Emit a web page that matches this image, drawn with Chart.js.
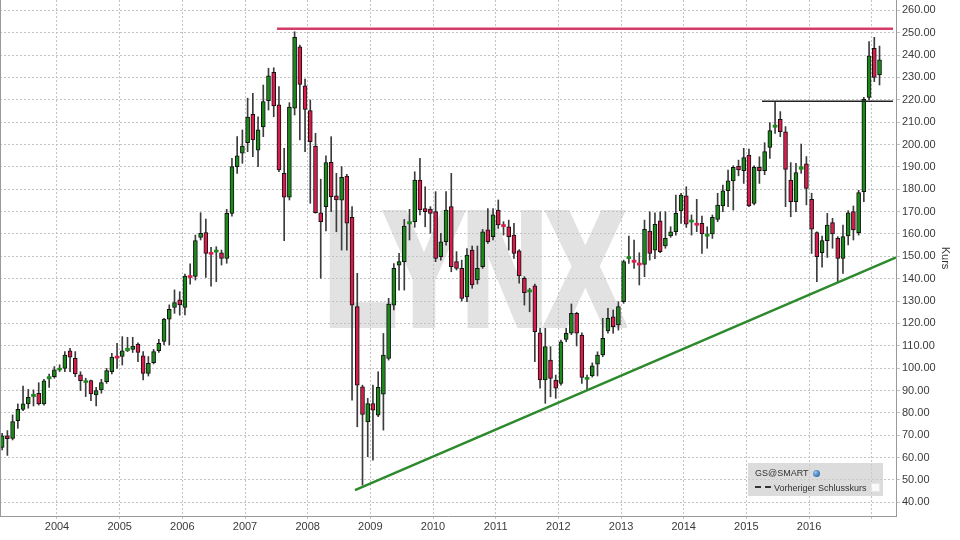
<!DOCTYPE html>
<html>
<head>
<meta charset="utf-8">
<script src="https://cdn.jsdelivr.net/npm/chart.js@4.4.1/dist/chart.umd.min.js"></script>
<style>
  html, body { margin:0; padding:0; background:#fff; }
  #wrap { position:relative; width:960px; height:540px; overflow:hidden; }
  #wm { position:absolute; left:325px; top:190px; font:bold 159px 'Liberation Sans', Arial, sans-serif; line-height:1;
        color:#e2e2e2; -webkit-text-stroke:8px #e2e2e2; transform-origin:left top; transform:scaleX(0.73); white-space:nowrap; z-index:0; }
  #c { position:absolute; left:0; top:0; z-index:1; }
  #legend { position:absolute; left:748px; top:463px; width:135px; height:33px; background:rgba(205,205,205,0.7); z-index:2;
            font:9px 'Liberation Sans', Arial, sans-serif; color:#333; }
  #legend .row1 { position:absolute; left:7px; top:5px; white-space:nowrap; }
  #legend .row2 { position:absolute; left:7px; top:20px; white-space:nowrap; }
  .globe { display:inline-block; width:7px; height:7px; border-radius:50%; background:radial-gradient(circle at 35% 35%, #9cc4ee, #2f6fb0 70%); vertical-align:-1px; margin-left:5px; }
  .dash { display:inline-block; width:16px; height:0; border-top:2px dashed #333; vertical-align:3px; margin-right:3px; }
  .sq { display:inline-block; width:7px; height:7px; background:#fafafa; border:1px solid #e6e6e6; vertical-align:-1px; margin-left:4px; }
</style>
</head>
<body>
<div id="wrap">
  <div id="wm">LYNX</div>
  <canvas id="c" width="960" height="540"></canvas>
  <div id="legend">
    <div class="row1">GS@SMART<span class="globe"></span></div>
    <div class="row2"><span class="dash"></span>Vorheriger Schlusskurs<span class="sq"></span></div>
  </div>
</div>
<script>
// ---- categories (monthly candles, Feb 2003 - Feb 2017) ----
const months = [
 '2003-02','2003-03','2003-04','2003-05','2003-06','2003-07','2003-08','2003-09','2003-10','2003-11','2003-12',
 '2004-01','2004-02','2004-03','2004-04','2004-05','2004-06','2004-07','2004-08','2004-09','2004-10','2004-11','2004-12',
 '2005-01','2005-02','2005-03','2005-04','2005-05','2005-06','2005-07','2005-08','2005-09','2005-10','2005-11','2005-12',
 '2006-01','2006-02','2006-03','2006-04','2006-05','2006-06','2006-07','2006-08','2006-09','2006-10','2006-11','2006-12',
 '2007-01','2007-02','2007-03','2007-04','2007-05','2007-06','2007-07','2007-08','2007-09','2007-10','2007-11','2007-12',
 '2008-01','2008-02','2008-03','2008-04','2008-05','2008-06','2008-07','2008-08','2008-09','2008-10','2008-11','2008-12',
 '2009-01','2009-02','2009-03','2009-04','2009-05','2009-06','2009-07','2009-08','2009-09','2009-10','2009-11','2009-12',
 '2010-01','2010-02','2010-03','2010-04','2010-05','2010-06','2010-07','2010-08','2010-09','2010-10','2010-11','2010-12',
 '2011-01','2011-02','2011-03','2011-04','2011-05','2011-06','2011-07','2011-08','2011-09','2011-10','2011-11','2011-12',
 '2012-01','2012-02','2012-03','2012-04','2012-05','2012-06','2012-07','2012-08','2012-09','2012-10','2012-11','2012-12',
 '2013-01','2013-02','2013-03','2013-04','2013-05','2013-06','2013-07','2013-08','2013-09','2013-10','2013-11','2013-12',
 '2014-01','2014-02','2014-03','2014-04','2014-05','2014-06','2014-07','2014-08','2014-09','2014-10','2014-11','2014-12',
 '2015-01','2015-02','2015-03','2015-04','2015-05','2015-06','2015-07','2015-08','2015-09','2015-10','2015-11','2015-12',
 '2016-01','2016-02','2016-03','2016-04','2016-05','2016-06','2016-07','2016-08','2016-09','2016-10','2016-11','2016-12',
 '2017-01','2017-02'
];
const open = [
 64.6,69.7,68.6,76.5,81.6,84.0,87.3,88.8,84.0,95.2,96.2,
 99.2,99.9,107.8,104.4,97.0,93.6,94.4,88.0,90.3,94.0,98.4,105.4,
 105.2,107.8,108.4,110.8,105.5,97.7,102.5,107.8,111.9,121.9,127.2,130.5,
 127.2,141.4,141.0,158.5,160.6,151.8,151.9,151.6,149.1,169.2,190.1,196.1,
 200.8,213.5,197.5,207.9,219.6,232.3,217.7,187.1,176.4,216.2,243.7,226.2,
 215.2,199.3,169.5,172.2,192.0,177.1,175.1,185.9,167.4,127.5,91.7,76.0,
 84.2,79.0,88.4,104.3,128.2,146.1,147.6,164.5,165.5,184.1,171.4,171.1,
 170.0,149.8,156.5,172.2,147.6,144.6,131.9,152.8,139.4,145.4,161.8,158.8,
 170.7,164.2,163.2,159.5,152.4,140.2,134.1,136.8,115.8,94.7,103.6,94.7,
 93.2,112.9,115.6,124.5,114.8,95.0,96.5,101.8,105.9,116.7,123.0,119.3,
 129.7,149.0,148.3,147.0,146.4,161.3,152.8,165.9,154.6,159.1,161.0,170.3,
 177.0,165.3,164.8,164.7,159.0,160.0,166.5,172.5,179.3,183.7,190.4,188.3,
 195.3,173.7,189.8,188.3,198.7,207.7,211.3,205.7,184.1,174.4,188.9,191.3,
 175.5,160.6,151.6,157.0,165.1,158.0,149.1,159.1,170.0,160.6,178.9,221.1,
 243.0,231.1
];
const high = [
 70.9,72.1,79.1,84.0,92.0,90.5,90.3,93.5,95.0,97.4,100.7,
 101.5,107.4,108.9,107.4,98.4,95.5,94.7,91.4,95.0,99.9,106.6,111.1,
 114.1,113.8,113.8,111.3,107.4,105.2,108.4,112.9,122.3,128.3,135.0,134.2,
 142.1,146.6,159.5,169.5,166.6,154.0,154.3,152.8,171.0,193.8,203.5,206.5,
 220.7,222.9,212.4,226.6,234.1,234.3,225.9,198.3,218.7,250.4,244.5,229.2,
 219.9,205.0,184.5,194.9,203.5,187.1,190.1,186.7,172.2,142.4,92.4,86.5,
 92.4,98.4,115.5,131.2,146.8,151.3,166.5,171.0,187.8,193.8,181.1,172.2,
 178.9,160.3,178.9,187.1,152.1,148.3,153.5,154.6,154.6,162.0,171.4,171.4,
 175.2,165.5,166.2,164.7,153.0,140.9,135.7,137.6,117.8,117.8,109.6,96.9,
 112.6,117.8,128.7,125.0,115.8,96.9,102.4,107.3,122.3,126.7,126.0,129.7,
 148.3,159.1,157.3,151.6,166.2,169.9,169.5,169.9,169.9,163.2,177.4,178.2,
 181.1,168.5,175.5,168.0,163.2,168.5,178.2,181.9,188.6,190.5,193.0,198.3,
 198.0,190.5,194.5,200.8,209.8,219.2,214.7,208.0,191.9,191.6,200.2,194.6,
 178.2,161.0,159.1,169.2,167.0,158.8,164.0,170.4,172.5,179.5,221.1,246.0,
 247.9,244.0
];
const low = [
 63.4,61.0,67.9,73.1,81.0,82.1,83.1,83.5,83.5,91.4,95.5,
 98.5,98.4,98.4,96.2,90.0,87.3,85.5,83.1,88.8,93.2,97.4,99.9,
 101.4,107.4,107.0,102.9,94.7,96.5,101.9,107.0,110.4,110.4,124.5,123.7,
 123.8,137.5,139.4,157.3,140.6,136.7,138.7,146.1,146.9,168.0,187.1,191.6,
 196.8,194.6,190.1,203.5,215.4,212.4,187.8,157.0,175.2,213.2,202.0,196.8,
 173.7,169.3,140.2,161.4,170.0,161.0,152.8,152.8,85.7,73.8,47.7,60.4,
 58.9,78.3,72.3,103.6,126.0,134.9,134.9,157.3,163.0,168.5,163.2,160.3,
 147.6,148.3,155.0,143.1,143.9,130.0,129.7,135.7,137.6,144.6,155.8,157.3,
 162.5,159.5,152.8,149.1,138.0,128.2,125.2,102.9,91.0,84.3,87.2,86.5,
 92.4,111.8,115.0,109.9,93.2,90.2,96.0,96.5,105.1,115.6,115.6,117.0,
 129.0,146.8,144.6,137.2,140.9,148.3,149.0,151.6,153.6,158.5,159.5,164.7,
 162.9,159.5,161.0,151.3,153.6,158.0,165.5,170.0,172.2,170.7,186.0,182.6,
 172.2,173.0,182.6,186.5,193.8,205.0,203.5,172.2,167.7,170.0,187.1,173.0,
 151.3,138.7,145.1,149.5,153.6,138.7,142.4,155.1,157.3,159.5,174.4,219.9,
 228.1,226.6
];
const close = [
 69.7,68.5,76.1,81.6,84.0,87.0,88.3,84.0,94.3,96.2,99.2,
 100.0,105.9,104.9,97.4,94.4,94.4,88.5,90.0,93.5,98.9,104.9,104.5,
 107.8,108.9,109.9,107.0,97.7,102.2,107.4,111.1,121.9,126.3,129.3,128.3,
 141.2,140.5,157.0,160.3,151.3,150.9,152.8,149.1,169.2,190.1,194.9,199.3,
 212.2,202.0,206.5,219.2,230.7,217.2,188.6,176.4,216.7,247.9,226.9,215.7,
 201.3,169.5,165.5,191.9,176.7,175.2,185.3,164.8,128.2,92.4,79.3,84.2,
 81.2,91.4,105.8,128.6,144.6,147.6,163.5,165.5,184.1,170.7,170.0,169.2,
 149.1,156.5,170.7,145.4,144.6,131.2,150.6,137.2,144.6,161.0,156.5,168.5,
 164.0,163.3,158.8,151.3,141.2,133.7,135.0,116.3,94.7,109.6,95.4,91.0,
 111.8,115.6,124.5,115.6,95.9,95.9,101.0,105.9,113.3,122.3,118.5,127.5,
 147.6,149.9,147.3,146.1,162.1,151.3,164.3,152.1,158.0,161.0,169.2,177.4,
 164.4,166.2,163.9,160.0,159.9,167.4,172.9,179.3,183.7,189.8,188.6,194.1,
 172.5,189.8,188.3,196.8,206.2,208.7,205.7,188.9,174.4,187.4,190.1,180.4,
 162.1,149.8,157.0,164.0,160.0,149.1,158.8,169.5,161.8,178.5,220.2,239.6,
 230.0,237.8
];
// ---- axis tick labels ----
const yearLabels = ['2004','2005','2006','2007','2008','2009','2010','2011','2012','2013','2014','2015','2016'];
// ---- drawn lines (value space) ----
const resistanceLevel = 251.8, resistanceFrom = 2007.51, resistanceTo = 2017.34;
const prevCloseLevel = 219.3, prevCloseFrom = 2015.25, prevCloseTo = 2017.34;
const trendFrom = [2008.755, 45.5], trendTo = [2017.39, 149.5];

const xOf = m => { const [y, mo] = m.split('-').map(Number); return y + (mo - 0.5) / 12; };
const GREEN = '#1b8a1b', RED = '#d81c4c';
const up = i => close[i] >= open[i];
const bodies = months.map((m, i) => ({ x: xOf(m), y: [open[i], close[i]] }));
const wicks = months.map((m, i) => ({ x: xOf(m), y: [low[i], high[i]] }));

Chart.defaults.font.family = "'Liberation Sans', Arial, sans-serif";
Chart.defaults.font.size = 11;
Chart.defaults.color = '#3a3a3a';

const frame = {
  id: 'frame',
  afterDraw(c) {
    const { ctx, chartArea: a } = c;
    ctx.save(); ctx.strokeStyle = '#9a9a9a'; ctx.lineWidth = 1;
    ctx.beginPath(); ctx.moveTo(a.left + 0.5, a.top); ctx.lineTo(a.left + 0.5, a.bottom); ctx.stroke();
    ctx.restore();
  }
};

new Chart(document.getElementById('c'), {
  type: 'bar',
  data: {
    datasets: [
      { type: 'line', label: 'Trend', data: [{ x: trendFrom[0], y: trendFrom[1] }, { x: trendTo[0], y: trendTo[1] }],
        borderColor: '#2c8a2c', borderWidth: 2.5, pointRadius: 0, order: 0 },
      { type: 'line', label: 'Widerstand', data: [{ x: resistanceFrom, y: resistanceLevel }, { x: resistanceTo, y: resistanceLevel }],
        borderColor: '#d43c68', borderWidth: 2.5, pointRadius: 0, order: 0 },
      { type: 'line', label: 'Vorheriger Schlusskurs', data: [{ x: prevCloseFrom, y: prevCloseLevel }, { x: prevCloseTo, y: prevCloseLevel }],
        borderColor: '#222', borderWidth: 1.5, pointRadius: 0, order: 0 },
      { label: 'GS@SMART', data: bodies, barThickness: 4, grouped: false, order: 1, borderSkipped: false,
        backgroundColor: c => up(c.dataIndex) ? GREEN : RED,
        borderColor: '#111',
        borderWidth: c => Math.abs(close[c.dataIndex] - open[c.dataIndex]) < 1.2 ? 0 : 1 },
      { label: 'Docht', data: wicks, barThickness: 1, grouped: false, order: 2, borderSkipped: false,
        backgroundColor: '#3c3c3c', borderWidth: 0 }
    ]
  },
  options: {
    responsive: false, animation: false, devicePixelRatio: 1,
    layout: { padding: 0, autoPadding: false },
    plugins: { legend: { display: false }, tooltip: { enabled: false } },
    scales: {
      x: {
        type: 'linear', min: 2003.0905, max: 2017.388, offset: false,
        grid: { offset: false, color: '#c2c2c2', tickLength: 3 },
        border: { color: '#9a9a9a', dash: [2, 2] },
        ticks: { stepSize: 1, includeBounds: false, maxRotation: 0, autoSkip: false, padding: 1,
                 callback: v => yearLabels.includes(String(v)) ? String(v) : '' },
        afterFit: s => { s.height = 24; s.paddingLeft = 0; s.paddingRight = 0; s.paddingTop = 0; s.paddingBottom = 0; }
      },
      y: {
        position: 'right', min: 33.9, max: 264.6, beginAtZero: false,
        grid: { color: '#c2c2c2', tickLength: 4 },
        border: { color: '#9a9a9a', dash: [2, 2] },
        ticks: { stepSize: 10, includeBounds: false, padding: 2, callback: v => Number(v).toFixed(2) },
        title: { display: true, text: 'Kurs', padding: { top: 8, bottom: 0 }, font: { size: 11 }, color: '#333' },
        afterFit: s => { s.width = 64; s.paddingTop = 0; s.paddingBottom = 0; s.paddingLeft = 0; s.paddingRight = 0; }
      }
    }
  },
  plugins: [frame]
});
</script>
</body>
</html>
